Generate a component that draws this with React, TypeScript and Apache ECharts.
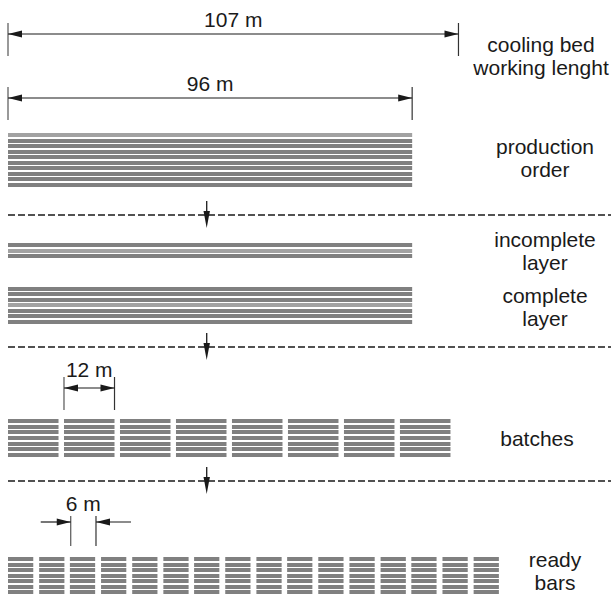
import React, { useEffect, useRef } from "react";
import * as echarts from "echarts";

// ---- data (metres along the bed, lanes in track units) ----
const bedLength = 107;
const productionLength = 96;
const batchLength = 12;
const pieceLength = 6;
const batchStarts = [0, 13.3, 26.6, 39.9, 53.2, 66.5, 79.8, 93.1];
const pieceStarts = [0, 7.4, 14.7, 22.1, 29.5, 36.9, 44.2, 51.6, 59.0, 66.3, 73.7, 81.1, 88.5, 95.8, 103.2, 110.6];
const productionRows = [133, 139, 144, 150, 155, 161, 166, 172, 177, 183];
const incompleteRows = [243, 249, 254];
const completeRows = [287, 292, 298, 303, 309, 314, 320];
const batchRows = [419, 425, 430, 436, 442, 447, 453];
const pieceRows = [557, 563, 568, 574, 579, 585, 590];
const productionLight = [0];
const incompleteLight = [1];
const completeLight = [3];
const separatorLanes = [215, 347, 481];
const flowArrowAt = 47.2;
const dimLabels = ["107 m", "96 m", "12 m", "6 m"];
const dimFrom = [0, 0, 13.3, 14.9];
const dimTo = [bedLength, productionLength, 13.3 + batchLength, 14.9 + pieceLength];
const dimLane = [34, 98, 388, 522];
const stageLabels = ["cooling bed\nworking lenght", "production\norder", "incomplete\nlayer", "complete\nlayer", "batches", "ready\nbars"];

const X_MAX = 143.23;
const BAR_H = 4;

function rowsData(starts: number[], len: number, rows: number[], light: number[]) {
  const out: number[][] = [];
  starts.forEach((s) => {
    rows.forEach((r, i) => {
      out.push([s, s + len, r, light.includes(i) ? 1 : 0]);
    });
  });
  return out;
}

const barItems = [
  ...rowsData([0], productionLength, productionRows, productionLight),
  ...rowsData([0], productionLength, incompleteRows, incompleteLight),
  ...rowsData([0], productionLength, completeRows, completeLight),
  ...rowsData(batchStarts, batchLength, batchRows, []),
  ...rowsData(pieceStarts, pieceLength, pieceRows, []),
];

const FONT = '"Liberation Sans", Arial, sans-serif';
const INK = "#1a1a1a";

export default function App() {
  const ref = useRef<HTMLDivElement>(null);
  useEffect(() => {
    document.body.style.margin = "0";
    const chart = echarts.init(ref.current!, undefined, { renderer: "svg" });
    const dimData = dimLabels.map((_, i) => [dimFrom[i], dimTo[i], dimLane[i], i >= 3 ? 1 : 0]);
    const option: any = {
      animation: false,
      grid: { left: 8, top: 0, width: 603, height: 594 },
      xAxis: { type: "value", min: 0, max: X_MAX, show: false },
      yAxis: { type: "value", min: 0, max: 594, inverse: true, show: false },
      series: [
        {
          type: "custom",
          name: "bars",
          data: barItems,
          silent: true,
          renderItem: (params: any, api: any) => {
            const p0 = api.coord([api.value(0), api.value(2)]);
            const p1 = api.coord([api.value(1), api.value(2) + BAR_H]);
            const light = api.value(3) === 1;
            return {
              type: "rect",
              shape: { x: p0[0], y: p0[1], width: p1[0] - p0[0], height: p1[1] - p0[1] },
              style: { fill: light ? "#a2a2a2" : "#808080" },
            };
          },
        },
        {
          type: "custom",
          name: "separators",
          data: separatorLanes.map((y) => [0, X_MAX, y, flowArrowAt]),
          silent: true,
          renderItem: (params: any, api: any) => {
            const a = api.coord([api.value(0), api.value(2)]);
            const b = api.coord([api.value(1), api.value(2)]);
            const c = api.coord([api.value(3), api.value(2)]);
            return {
              type: "group",
              children: [
                {
                  type: "line",
                  shape: { x1: a[0], y1: a[1], x2: b[0], y2: b[1] },
                  style: { stroke: INK, lineWidth: 1.7, lineDash: [7, 3] },
                },
                {
                  type: "line",
                  shape: { x1: c[0], y1: c[1] - 14, x2: c[0], y2: c[1] - 3 },
                  style: { stroke: INK, lineWidth: 1.3 },
                },
                {
                  type: "polygon",
                  shape: { points: [[c[0] - 3.2, c[1] - 4], [c[0] + 3.2, c[1] - 4], [c[0], c[1] + 13]] },
                  style: { fill: INK },
                },
              ],
            };
          },
        },
        {
          type: "custom",
          name: "dimensions",
          data: dimData,
          silent: true,
          renderItem: (params: any, api: any) => {
            const a = api.coord([api.value(0), api.value(2)]);
            const b = api.coord([api.value(1), api.value(2)]);
            const outside = api.value(3) === 1;
            const y = a[1];
            const L = 14;
            const w = 3.4;
            const children: any[] = [];
            const extTop = outside ? y - 6 : y - 11;
            const extBot = outside ? y + 24 : y + 22;
            children.push({ type: "line", shape: { x1: a[0], y1: extTop, x2: a[0], y2: extBot }, style: { stroke: "#555", lineWidth: 1.2 } });
            children.push({ type: "line", shape: { x1: b[0], y1: extTop, x2: b[0], y2: extBot }, style: { stroke: "#333", lineWidth: 1.2 } });
            if (!outside) {
              children.push({ type: "line", shape: { x1: a[0], y1: y, x2: b[0], y2: y }, style: { stroke: INK, lineWidth: 1.2 } });
              children.push({ type: "polygon", shape: { points: [[a[0], y], [a[0] + L, y - w], [a[0] + L, y + w]] }, style: { fill: INK } });
              children.push({ type: "polygon", shape: { points: [[b[0], y], [b[0] - L, y - w], [b[0] - L, y + w]] }, style: { fill: INK } });
            } else {
              children.push({ type: "line", shape: { x1: a[0] - 30, y1: y, x2: a[0], y2: y }, style: { stroke: INK, lineWidth: 1.2 } });
              children.push({ type: "line", shape: { x1: b[0], y1: y, x2: b[0] + 35, y2: y }, style: { stroke: INK, lineWidth: 1.2 } });
              children.push({ type: "polygon", shape: { points: [[a[0], y], [a[0] - L, y - w], [a[0] - L, y + w]] }, style: { fill: INK } });
              children.push({ type: "polygon", shape: { points: [[b[0], y], [b[0] + L, y - w], [b[0] + L, y + w]] }, style: { fill: INK } });
            }
            children.push({
              type: "text",
              style: {
                text: dimLabels[params.dataIndex],
                x: (a[0] + b[0]) / 2,
                y: y - (params.dataIndex >= 2 ? 19 : 15),
                textAlign: "center",
                textVerticalAlign: "middle",
                font: `21px ${FONT}`,
                fill: INK,
              },
            });
            return { type: "group", children };
          },
        },
      ],
      graphic: [
        { pos: [541, 56] },
        { pos: [545, 158] },
        { pos: [545, 251] },
        { pos: [545, 307] },
        { pos: [537, 438] },
        { pos: [555, 571] },
      ].map((g, i) => ({
        type: "text",
        x: g.pos[0],
        y: g.pos[1],
        silent: true,
        style: {
          text: stageLabels[i],
          textAlign: "center",
          textVerticalAlign: "middle",
          font: `21px ${FONT}`,
          lineHeight: 23,
          fill: INK,
        },
      })),
    };
    chart.setOption(option);
    return () => chart.dispose();
  }, []);
  return <div ref={ref} style={{ position: "absolute", left: 0, top: 0, width: 611, height: 594, background: "#fff" }} />;
}
